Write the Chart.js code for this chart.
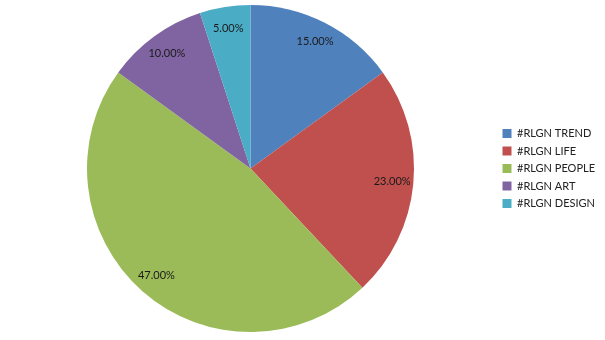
<!DOCTYPE html>
<html><head><meta charset="utf-8">
<script src="https://cdn.jsdelivr.net/npm/chart.js@4/dist/chart.umd.min.js"></script>
<style>html,body{margin:0;padding:0;background:#fff}#wrap{width:605px;height:340px}</style>
</head><body><div id="wrap"><canvas id="c" width="605" height="340"></canvas></div>
<script>
const categories = ["#RLGN TREND", "#RLGN LIFE", "#RLGN PEOPLE", "#RLGN ART", "#RLGN DESIGN"];
const values = [15, 23, 47, 10, 5];
const colors = ["#4F81BD", "#C0504D", "#9BBB59", "#8064A2", "#4BACC6"];

const labelPlugin = {
  id: 'sliceLabels',
  afterDatasetsDraw(chart) {
    const ctx = chart.ctx;
    const meta = chart.getDatasetMeta(0);
    const total = values.reduce((a, b) => a + b, 0);
    ctx.save();
    ctx.font = '11px Lato';
    ctx.fillStyle = '#1a1a1a';
    ctx.textAlign = 'center';
    ctx.textBaseline = 'middle';
    meta.data.forEach((arc, i) => {
      const p = arc.getProps(['x', 'y', 'startAngle', 'endAngle', 'outerRadius'], true);
      const mid = (p.startAngle + p.endAngle) / 2;
      const r = p.outerRadius * 0.87;
      ctx.fillText((values[i] / total * 100).toFixed(2) + '%', p.x + Math.cos(mid) * r, p.y + Math.sin(mid) * r);
    });
    ctx.restore();
  }
};

new Chart(document.getElementById('c'), {
  type: 'pie',
  data: {
    labels: categories,
    datasets: [{ data: values, backgroundColor: colors, borderWidth: 0 }]
  },
  options: {
    responsive: false,
    animation: false,
    layout: { padding: { left: 5, right: 0, top: 5, bottom: 8 } },
    plugins: {
      tooltip: { enabled: false },
      legend: {
        position: 'right',
        labels: {
          boxWidth: 9, boxHeight: 9, padding: 6.5,
          font: { family: 'Lato', size: 11 },
          color: '#222'
        }
      }
    }
  },
  plugins: [labelPlugin]
});
</script></body></html>
